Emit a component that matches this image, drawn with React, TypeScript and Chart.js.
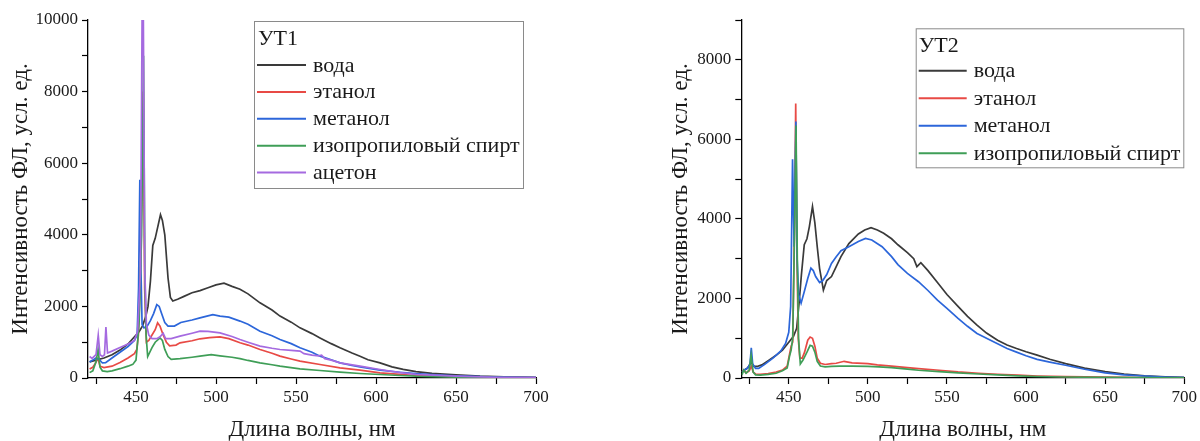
import React, { useEffect, useRef } from 'react';
import { Chart, registerables } from 'chart.js';

Chart.register(...registerables);

// ---------- Shared tick values ----------
const xTickValues = [425, 450, 475, 500, 525, 550, 575, 600, 625, 650, 675, 700];
const yTicksUT1 = [0, 1000, 2000, 3000, 4000, 5000, 6000, 7000, 8000, 9000, 10000];
const yTicksUT2 = [0, 1000, 2000, 3000, 4000, 5000, 6000, 7000, 8000, 9000];

const seriesLabels = ['вода', 'этанол', 'метанол', 'изопропиловый спирт', 'ацетон'];
const seriesColors = ['#3a3a3a', '#e84a45', '#2c66da', '#3f9e57', '#a56ae0'];

// ---------- УТ1 ----------
const ut1WaterX = [421, 425, 430, 435, 440, 445, 450, 452, 454, 456, 457.5, 459, 460.5, 462, 463.5, 465.3, 466.5, 468, 470, 471.5, 473, 476, 480, 485, 490, 495, 500, 505, 510, 515, 520, 527.5, 535, 540, 547, 552.5, 560, 565, 572, 577.5, 585, 590, 595, 602.5, 610, 617, 625, 635, 650, 665, 680, 700];
const ut1WaterY = [450, 500, 560, 650, 780, 950, 1200, 1300, 1450, 1700, 2000, 2700, 3700, 3900, 4200, 4560, 4400, 4000, 2800, 2250, 2150, 2200, 2280, 2380, 2440, 2520, 2600, 2650, 2560, 2480, 2350, 2100, 1900, 1730, 1560, 1400, 1240, 1120, 960, 845, 700, 610, 510, 424, 310, 240, 180, 130, 90, 55, 35, 15];

const ut1EthanolX = [421, 423, 424.5, 426.2, 427.5, 430, 435, 440, 445, 449, 450.5, 451.5, 452.5, 453.6, 454.5, 455.4, 456.5, 458, 460, 462, 463.5, 465, 467, 469, 471, 475, 477.5, 485, 490, 496, 502.5, 508, 515, 520, 527.5, 535, 540, 547, 552.5, 565, 577.5, 590, 602.5, 615, 625, 650, 675, 700];
const ut1EthanolY = [250, 300, 400, 550, 330, 290, 330, 430, 560, 680, 800, 1200, 2500, 5000, 8000, 2500, 1000, 1050, 1200, 1350, 1540, 1450, 1200, 1000, 900, 920, 983, 1040, 1095, 1130, 1150, 1100, 983, 920, 796, 690, 610, 530, 470, 377, 284, 220, 145, 100, 70, 35, 15, 5];

const ut1MethanolX = [421, 423, 425, 427, 429, 431, 435, 440, 445, 449, 450.7, 451.6, 452.4, 453.1, 453.8, 455, 457, 459, 461, 463, 464.5, 466, 468, 470, 474, 478, 485, 490, 498, 502.5, 508, 515, 520, 527.5, 535, 540, 547, 552.5, 560, 565, 572, 577.5, 585, 590, 602.5, 615, 625, 640, 650, 670, 700];
const ut1MethanolY = [450, 500, 560, 520, 420, 430, 560, 720, 880, 1050, 1200, 2500, 5540, 3000, 1500, 1400, 1450, 1600, 1800, 2050, 2000, 1800, 1550, 1450, 1450, 1550, 1620, 1680, 1770, 1727, 1700, 1590, 1500, 1308, 1180, 1076, 960, 845, 720, 610, 510, 424, 350, 313, 220, 160, 120, 80, 60, 30, 10];

const ut1IsopropylX = [421, 423, 425, 426.3, 427.5, 429, 432, 435, 440, 445, 448, 450, 451, 452, 453.5, 454.7, 455.5, 456.3, 457.3, 460, 462, 465, 466.5, 468, 470, 472, 477.5, 485, 490, 497, 502.5, 510, 515, 520, 527.5, 535, 540, 552.5, 565, 577.5, 590, 602.5, 615, 625, 650, 675, 700];
const ut1IsopropylY = [150, 200, 450, 800, 300, 200, 180, 200, 260, 330, 380, 500, 1000, 1600, 4000, 9000, 3000, 1200, 600, 850, 1000, 1120, 1050, 800, 600, 520, 540, 580, 610, 650, 620, 580, 540, 490, 424, 370, 331, 257, 210, 163, 126, 98, 70, 50, 25, 10, 4];

const ut1AcetoneX = [421, 422.5, 425, 426.4, 427.5, 429, 430.3, 431.2, 432.2, 435, 440, 445, 449, 451, 452.8, 453.8, 454.6, 455.5, 456.5, 458, 460, 463, 465, 467, 468.5, 472, 477.5, 485, 490, 495, 502.5, 510, 515, 520, 527.5, 535, 540, 547, 552.5, 555, 560, 564, 566, 568, 572, 577.5, 590, 602.5, 615, 625, 650, 675, 700];
const ut1AcetoneY = [600, 550, 650, 1200, 650, 600, 650, 1420, 700, 750, 850, 950, 1050, 1300, 3000, 10000, 10000, 3000, 1500, 1200, 1100, 1100, 1150, 1250, 1100, 1100, 1169, 1250, 1308, 1300, 1262, 1160, 1076, 1000, 890, 830, 796, 770, 750, 680, 640, 620, 640, 540, 500, 424, 330, 238, 150, 100, 50, 20, 8];

// ---------- УТ2 ----------
const ut2WaterX = [420.5, 422, 424, 426.3, 428, 430, 433, 437.5, 442, 446, 449, 451, 453, 455, 456.7, 458, 459.8, 461.5, 463, 465, 466.5, 468, 469.5, 471.9, 474, 477, 480, 483, 488, 494, 498, 502, 506, 510, 515, 519, 525, 529, 531, 533.5, 538, 544, 550, 557, 563, 569, 575, 582, 588, 594, 600, 607, 615, 625, 637, 650, 662, 675, 688, 700];
const ut2WaterY = [150, 200, 250, 400, 290, 290, 330, 450, 570, 700, 850, 950, 1050, 1250, 1960, 2600, 3350, 3500, 3800, 4310, 3900, 3300, 2750, 2210, 2450, 2550, 2800, 3050, 3380, 3620, 3720, 3780, 3720, 3640, 3500, 3350, 3150, 3000, 2800, 2900, 2700, 2400, 2100, 1800, 1550, 1330, 1130, 950, 830, 740, 660, 575, 470, 360, 250, 160, 100, 55, 30, 15];

const ut2EthanolX = [420.5, 421.5, 423, 425, 426.3, 427.5, 429, 432, 437, 442, 446, 449, 450.5, 451.5, 452.5, 453.5, 454.4, 455.2, 456, 457, 458.5, 460, 462, 463.5, 465, 466.5, 468, 470, 473, 477, 480, 485, 490, 500, 506, 515, 525, 532, 545, 557, 570, 582, 595, 607, 625, 650, 675, 700];
const ut2EthanolY = [150, 200, 130, 180, 300, 150, 100, 90, 110, 150, 200, 300, 600, 800, 900, 3500, 6900, 3000, 1000, 500, 500, 650, 950, 1030, 1000, 800, 500, 370, 340, 360, 370, 420, 380, 360, 330, 300, 260, 237, 195, 153, 120, 94, 70, 50, 35, 20, 10, 5];

const ut2MethanolX = [420.5, 422, 424, 425.5, 426.3, 427.2, 429, 431, 435, 440, 445, 448, 450, 451.2, 452.4, 453.4, 454.5, 455.3, 456.2, 457.8, 460, 462, 464, 465.5, 467, 469.5, 471.5, 474, 477, 480, 483, 488, 494, 498.5, 502.5, 509, 515, 519, 525, 532, 538, 544, 550, 557, 563, 569, 575, 582, 588, 594, 600, 607, 615, 625, 637, 650, 662, 675, 688, 700];
const ut2MethanolY = [150, 200, 250, 350, 760, 350, 240, 240, 350, 500, 680, 870, 1150, 1800, 5500, 3300, 6450, 3000, 2100, 1880, 2200, 2500, 2760, 2700, 2550, 2400, 2450, 2600, 2880, 3050, 3200, 3300, 3430, 3510, 3470, 3300, 3050, 2850, 2630, 2420, 2200, 1960, 1750, 1500, 1300, 1120, 1000, 860, 740, 650, 560, 470, 400, 320, 220, 130, 80, 50, 25, 10];

const ut2IsopropylX = [420.5, 421.5, 423, 425, 426.2, 427.5, 429, 432, 437, 442, 446, 449, 450.5, 451.5, 452.5, 453.6, 454.6, 455.4, 456.2, 457.3, 459, 461.5, 463.5, 465, 466.5, 468, 470, 473, 477, 482, 490, 500, 507, 515, 525, 532, 545, 557, 570, 582, 595, 607, 625, 650, 675, 700];
const ut2IsopropylY = [80, 200, 120, 200, 570, 150, 80, 70, 90, 120, 180, 250, 550, 700, 1000, 3500, 6350, 3000, 1000, 350, 450, 650, 820, 800, 650, 420, 300, 280, 290, 300, 300, 290, 280, 260, 225, 195, 160, 128, 100, 78, 55, 38, 25, 15, 8, 3];

const SERIF = '"Liberation Serif", "Times New Roman", serif';
const TEXT = '#1a1a1a';

const toPoints = (xs: number[], ys: number[]) => xs.map((x, i) => ({ x, y: ys[i] }));

const boxLegend = {
  id: 'boxLegend',
  afterDraw(chart: any, _args: any, o: any) {
    if (!o || !o.show) return;
    const ctx = chart.ctx;
    ctx.save();
    ctx.fillStyle = '#ffffff';
    ctx.fillRect(o.x, o.y, o.w, o.h);
    ctx.strokeStyle = '#8a8a8a';
    ctx.lineWidth = 1;
    ctx.strokeRect(o.x + 0.5, o.y + 0.5, o.w, o.h);
    ctx.font = `${o.fontSize}px ${SERIF}`;
    ctx.textAlign = 'left';
    ctx.textBaseline = 'alphabetic';
    ctx.fillStyle = TEXT;
    ctx.fillText(o.title, o.x + o.titleDx, o.titleBaseline);
    chart.data.datasets.forEach((ds: any, i: number) => {
      const cy = o.firstY + i * o.step;
      ctx.strokeStyle = ds.borderColor;
      ctx.lineWidth = 2;
      ctx.beginPath();
      ctx.moveTo(o.x + o.lineStart, cy);
      ctx.lineTo(o.x + o.lineEnd, cy);
      ctx.stroke();
      ctx.fillStyle = TEXT;
      ctx.fillText(ds.label, o.x + o.textDx, cy + o.baselineDy);
    });
    ctx.restore();
  },
};

function makeConfig(p: any) {
  const datasets = p.series.map((s: any, i: number) => ({
    label: seriesLabels[i],
    data: toPoints(s[0], s[1]),
    borderColor: seriesColors[i],
    backgroundColor: seriesColors[i],
    borderWidth: 1.7,
    pointRadius: 0,
    tension: 0,
    fill: false,
    order: p.series.length - 1 - i,
  }));
  const tickFont = { family: SERIF, size: 17 };
  return {
    type: 'line',
    data: { datasets },
    plugins: [boxLegend],
    options: {
      responsive: false,
      animation: false,
      events: [],
      layout: { autoPadding: false, padding: { left: 0, top: 20, right: p.rightPad, bottom: 0 } },
      plugins: {
        legend: { display: false },
        tooltip: { enabled: false },
        boxLegend: p.legend,
      },
      scales: {
        x: {
          type: 'linear',
          min: 420,
          max: 700,
          afterBuildTicks: (s: any) => { s.ticks = xTickValues.map((v) => ({ value: v })); },
          afterFit: (s: any) => { s.height = 63; },
          ticks: {
            autoSkip: false,
            maxRotation: 0,
            padding: 3,
            color: TEXT,
            font: tickFont,
            callback: (v: any) => (Number(v) % 50 === 0 ? String(v) : ''),
          },
          grid: { drawOnChartArea: false, tickLength: 6, color: '#000', tickWidth: 1.2 },
          border: { display: true, color: '#000', width: 1.3 },
          title: {
            display: true,
            text: 'Длина волны, нм',
            color: TEXT,
            font: { family: SERIF, size: 23, lineHeight: 1 },
            padding: { top: 0, bottom: 0 },
          },
        },
        y: {
          type: 'linear',
          min: 0,
          max: p.yMax,
          afterBuildTicks: (s: any) => { s.ticks = p.yTicks.map((v: number) => ({ value: v })); },
          afterFit: (s: any) => { s.width = p.yAxisWidth; },
          ticks: {
            autoSkip: false,
            padding: 4,
            color: TEXT,
            font: tickFont,
            callback: (v: any) => (Number(v) % 2000 === 0 ? String(v) : ''),
          },
          grid: { drawOnChartArea: false, tickLength: 6, color: '#000', tickWidth: 1.2 },
          border: { display: true, color: '#000', width: 1.3 },
          title: {
            display: true,
            text: 'Интенсивность ФЛ, усл. ед.',
            color: TEXT,
            font: { family: SERIF, size: 23, lineHeight: 1 },
            padding: { top: p.yTitlePad, bottom: 0 },
          },
        },
      },
    },
  };
}

function Panel(props: any) {
  const ref = useRef<HTMLCanvasElement | null>(null);
  useEffect(() => {
    if (!ref.current) return;
    const chart = new Chart(ref.current, makeConfig(props.cfg) as any);
    return () => chart.destroy();
  }, []);
  return (
    <canvas
      ref={ref}
      width={props.width}
      height={441}
      style={{ position: 'absolute', left: props.left, top: 0, width: props.width, height: 441 }}
    />
  );
}

const ut1Cfg = {
  series: [
    [ut1WaterX, ut1WaterY],
    [ut1EthanolX, ut1EthanolY],
    [ut1MethanolX, ut1MethanolY],
    [ut1IsopropylX, ut1IsopropylY],
    [ut1AcetoneX, ut1AcetoneY],
  ],
  yMax: 10000,
  yTicks: yTicksUT1,
  yAxisWidth: 88,
  rightPad: 64,
  yTitlePad: 9.8,
  legend: {
    show: true, title: 'УТ1', x: 254, y: 21, w: 269, h: 167, fontSize: 22,
    titleDx: 4, titleBaseline: 45, firstY: 65, step: 26.9,
    lineStart: 3, lineEnd: 52, textDx: 59, baselineDy: 6.5,
  },
};

const ut2Cfg = {
  series: [
    [ut2WaterX, ut2WaterY],
    [ut2EthanolX, ut2EthanolY],
    [ut2MethanolX, ut2MethanolY],
    [ut2IsopropylX, ut2IsopropylY],
  ],
  yMax: 9000,
  yTicks: yTicksUT2,
  yAxisWidth: 141.3,
  rightPad: 10.7,
  yTitlePad: 69.8,
  legend: {
    show: true, title: 'УТ2', x: 315.7, y: 28.3, w: 267.6, h: 139, fontSize: 22,
    titleDx: 3, titleBaseline: 51.7, firstY: 70.7, step: 27.5,
    lineStart: 3, lineEnd: 51, textDx: 58, baselineDy: 6.5,
  },
};

export default function App() {
  return (
    <div style={{ position: 'absolute', left: 0, top: 0, width: 1200, height: 441, background: '#fff', overflow: 'hidden' }}>
      <Panel cfg={ut1Cfg} left={0} width={600} />
      <Panel cfg={ut2Cfg} left={600} width={600} />
    </div>
  );
}
